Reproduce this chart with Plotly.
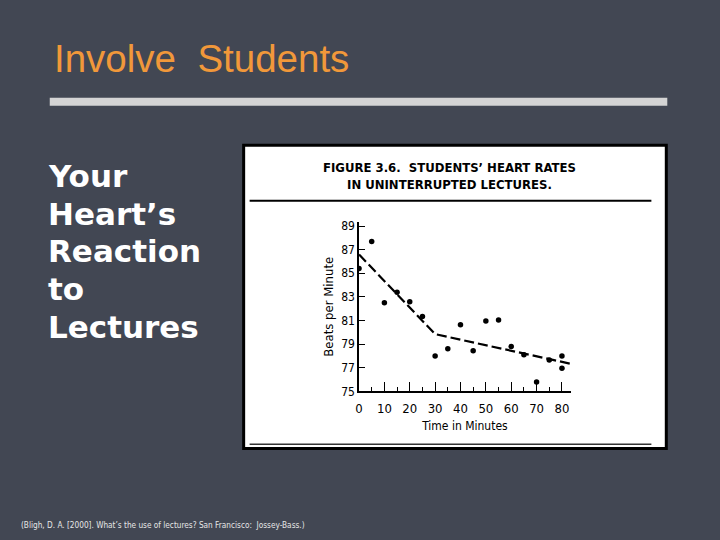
import plotly.graph_objects as go

# ---- data ----
minutes = [0, 5, 10, 15, 20, 25, 30, 35, 40, 45, 50, 55, 60, 65, 70, 75, 80, 80]
bpm = [85.4, 87.7, 82.5, 83.4, 82.6, 81.35, 78.0, 78.6, 80.65, 78.45,
       80.95, 81.05, 78.8, 78.1, 75.8, 77.65, 78.0, 76.95]
trend_minutes = [0, 30, 83.2]
trend_bpm = [86.6, 79.85, 77.35]
x_tick_vals = [0, 10, 20, 30, 40, 50, 60, 70, 80]
x_minor_vals = [5, 15, 25, 35, 45, 55, 65, 75]
y_tick_vals = [75, 77, 79, 81, 83, 85, 87, 89]
side_lines = ["Your", "Heart’s", "Reaction", "to", "Lectures"]

W, H = 720, 540
BG = "#424753"
def px(x):
    return x / W
def py(y):
    return 1 - y / H

NARROW = "Liberation Sans Narrow, DejaVu Sans Condensed, Arial Narrow, sans-serif"

fig = go.Figure()
fig.add_trace(go.Scatter(
    x=trend_minutes, y=trend_bpm, mode="lines",
    line=dict(color="black", width=2.2, dash="10px,4px"),
    showlegend=False, hoverinfo="skip"))
fig.add_trace(go.Scatter(
    x=minutes, y=bpm, mode="markers",
    marker=dict(color="black", size=5.5),
    showlegend=False))

shapes = [
    dict(type="rect", xref="paper", yref="paper",
         x0=px(241), x1=px(666), y0=py(454), y1=py(145),
         fillcolor="white", line=dict(color="black", width=3), layer="below"),
    dict(type="line", xref="paper", yref="paper",
         x0=px(247), x1=px(651), y0=py(201.5), y1=py(201.5),
         line=dict(color="black", width=2)),
    dict(type="line", xref="paper", yref="paper",
         x0=px(247), x1=px(651), y0=py(449.5), y1=py(449.5),
         line=dict(color="#333333", width=1.5)),
    dict(type="line", xref="paper", yref="paper",
         x0=px(46), x1=px(667), y0=py(100.5), y1=py(100.5),
         line=dict(color="#d4d4d4", width=8)),
]

annotations = [
    dict(text="Involve  Students", x=px(48), y=py(57), xref="paper", yref="paper",
         xanchor="left", yanchor="middle", showarrow=False,
         font=dict(family="Liberation Sans, Arial, sans-serif", size=38.5, color="#f1983a")),
    dict(text="<b>FIGURE 3.6.  STUDENTS’ HEART RATES<br>IN UNINTERRUPTED LECTURES.</b>",
         x=px(448), y=py(176), xref="paper", yref="paper", xanchor="center",
         yanchor="middle", showarrow=False,
         font=dict(family=NARROW, size=13, color="black")),
    dict(text="(Bligh, D. A. [2000]. What’s the use of lectures? San Francisco:  Jossey-Bass.)",
         x=px(15), y=py(532), xref="paper", yref="paper", xanchor="left",
         yanchor="middle", showarrow=False,
         font=dict(family=NARROW, size=8.2, color="#e6e6e6")),
]
line_centres = [176, 214.5, 253, 291.5, 330]
for txt, yc in zip(side_lines, line_centres):
    annotations.append(dict(
        text=txt, x=px(42), y=py(yc), xref="paper", yref="paper",
        xanchor="left", yanchor="middle", showarrow=False,
        font=dict(family="DejaVu Sans, Verdana, sans-serif", size=31, color="white",
                  weight="bold")))

fig.update_layout(
    width=W, height=H,
    margin=dict(l=0, r=0, t=0, b=0),
    paper_bgcolor=BG,
    plot_bgcolor="white",
    shapes=shapes,
    annotations=annotations,
    xaxis=dict(
        domain=[px(357), px(570)], range=[0, 83.5],
        showline=True, linecolor="black", linewidth=1.5,
        showgrid=False, zeroline=False,
        tickmode="array", tickvals=x_tick_vals,
        ticks="inside", ticklen=10, tickwidth=1.2, tickcolor="black",
        ticklabelstandoff=4,
        minor=dict(tickmode="array", tickvals=x_minor_vals, ticks="inside",
                   ticklen=5, tickwidth=1.2, tickcolor="black", showgrid=False),
        tickfont=dict(family=NARROW, size=13, color="black"),
        title=dict(text="Time in Minutes", standoff=7,
                   font=dict(family=NARROW, size=12, color="black")),
    ),
    yaxis=dict(
        domain=[py(395.7), py(223.3)], range=[75, 89.33],
        showline=True, linecolor="black", linewidth=1.5,
        showgrid=False, zeroline=False,
        tickmode="array", tickvals=y_tick_vals,
        ticks="inside", ticklen=6, tickwidth=1.2, tickcolor="black",
        tickfont=dict(family=NARROW, size=12, color="black"),
        title=dict(text="Beats per Minute", standoff=5,
                   font=dict(family=NARROW, size=13, color="black")),
    ),
)

fig.write_html("out.html", config={"displayModeBar": False},
               post_script="document.body.style.margin='0';document.body.style.background='" + BG + "';")
